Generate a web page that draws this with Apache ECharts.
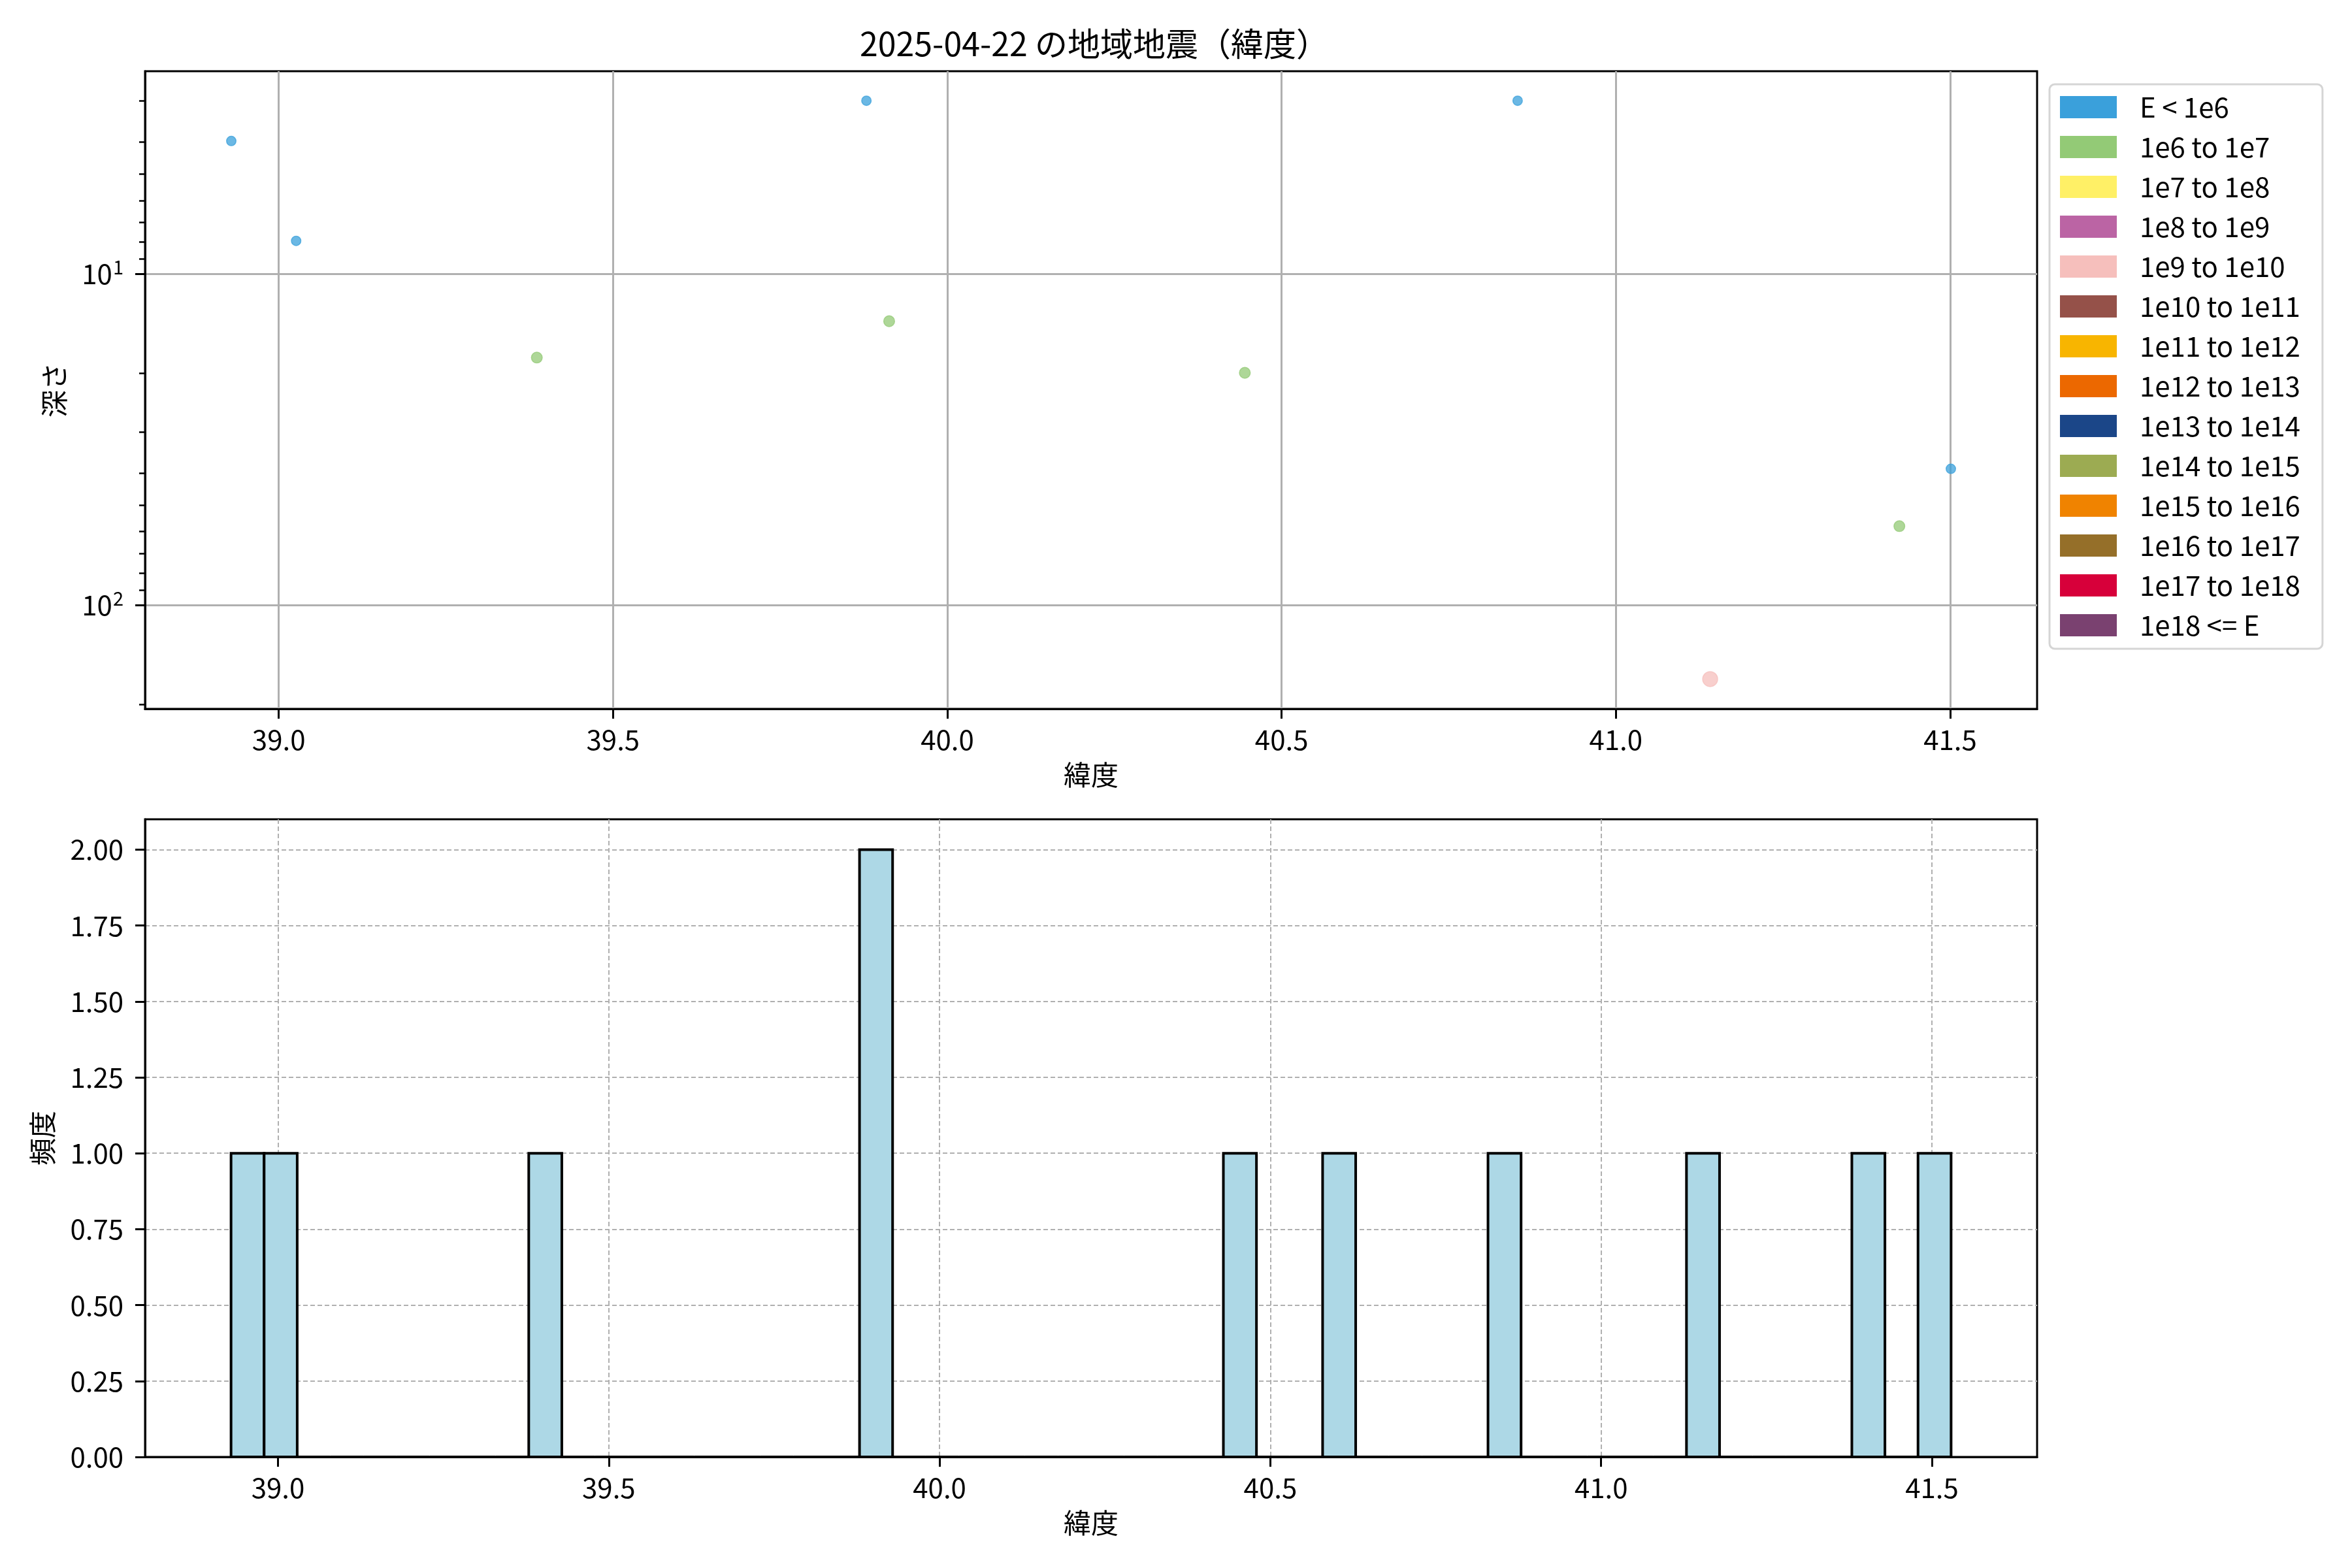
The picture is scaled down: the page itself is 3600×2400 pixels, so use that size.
<!DOCTYPE html>
<html><head><meta charset="utf-8">
<script src="https://cdn.jsdelivr.net/npm/echarts@6/dist/echarts.min.js"></script>
<style>html,body{margin:0;padding:0;background:#fff}#c{width:3600px;height:2400px}</style>
</head><body><div id="c"></div>
<script>
// ---------- data ----------
const titleText = '2025-04-22 の地域地震（緯度）';
const energyClasses = ['E < 1e6','1e6 to 1e7','1e7 to 1e8','1e8 to 1e9','1e9 to 1e10','1e10 to 1e11','1e11 to 1e12','1e12 to 1e13','1e13 to 1e14','1e14 to 1e15','1e15 to 1e16','1e16 to 1e17','1e17 to 1e18','1e18 <= E'];
const classColors = ['#3AA0DB','#93CA76','#FFF066','#BB64A4','#F6BFBC','#955149','#F8B500','#EC6800','#1B4688','#9CAB52','#F08300','#956F29','#D7003A','#7A4170'];
const quakeLat   = [38.929, 39.026, 39.386, 39.879, 39.913, 40.445, 40.853, 41.141, 41.424, 41.501];
const quakeDepth = [3.97,   7.95,   17.9,   3.0,    13.9,   19.9,   3.0,    167.5,  57.8,   38.8];
const quakeClass = [0,      0,      1,      0,      1,      1,      0,      4,      1,      0];
const latTicks = [39.0, 39.5, 40.0, 40.5, 41.0, 41.5];
const depthMajorTicks = [10, 100];
const depthMinorTicks = [3,4,5,6,7,8,9,20,30,40,50,60,70,80,90,200];
const histBinStart = 38.929;
const histBinWidth = 0.05;
const histCounts = [1,1,0,0,0,0,0,0,0,1,
                    0,0,0,0,0,0,0,0,0,2,
                    0,0,0,0,0,0,0,0,0,0,
                    1,0,0,1,0,0,0,0,1,0,
                    0,0,0,0,1,0,0,0,0,1,
                    0,1];
const freqTicks = [0, 0.25, 0.5, 0.75, 1.0, 1.25, 1.5, 1.75, 2.0];

// ---------- chart ----------
const FONT = "'Noto Sans CJK JP', 'Noto Sans', sans-serif";
const chart = echarts.init(document.getElementById('c'), null, {renderer: 'canvas'});

const axisLine = {show: true, lineStyle: {color: '#000', width: 3}};
const tickStyle = {color: '#000', width: 3};
const labelBase = {color: '#000', fontSize: 42, fontFamily: FONT};
const nameStyle = {color: '#000', fontSize: 42, fontFamily: FONT};

const scatterSeries = energyClasses.map((name, ci) => ({
  type: 'scatter',
  name: name,
  xAxisIndex: 0,
  yAxisIndex: 0,
  data: quakeLat.map((x, i) => [x, quakeDepth[i], quakeClass[i]]).filter(d => d[2] === ci),
  symbol: 'circle',
  symbolSize: 14.5 + ci * 2.1,
  itemStyle: {color: classColors[ci], opacity: 0.75, borderColor: classColors[ci], borderWidth: 1.5},
  emphasis: {disabled: true},
  z: 3
}));

const histData = histCounts.map((c, i) => [histBinStart + i * histBinWidth, histBinStart + (i + 1) * histBinWidth, c]);

const option = {
  backgroundColor: '#fff',
  animation: false,
  title: {
    text: titleText, left: 1670, top: 37, textAlign: 'center',
    textStyle: {fontSize: 50, fontWeight: 'normal', fontFamily: FONT, color: '#000'}
  },
  legend: {
    orient: 'vertical', left: 3137, top: 129,
    data: energyClasses,
    icon: 'rect', itemWidth: 87, itemHeight: 34, itemGap: 19,
    padding: [14, 34, 15, 16],
    backgroundColor: '#fff', borderColor: '#d5d5d5', borderWidth: 3, borderRadius: 8,
    textStyle: {fontFamily: FONT, fontSize: 42, color: '#000', lineHeight: 34, padding: [0, 0, 0, 30]},
    itemStyle: {opacity: 1, borderWidth: 0},
    selectedMode: false
  },
  grid: [
    {left: 222, top: 109, width: 2896, height: 976, show: true, borderColor: '#000', borderWidth: 3, backgroundColor: 'transparent'},
    {left: 222, top: 1254, width: 2896, height: 976, show: true, borderColor: '#000', borderWidth: 3, backgroundColor: 'transparent'}
  ],
  xAxis: [
    {
      type: 'value', gridIndex: 0, min: 38.800, max: 41.630,
      name: '緯度', nameLocation: 'middle', nameGap: 80, nameTextStyle: nameStyle,
      axisLine: axisLine,
      axisTick: {show: true, length: 15, lineStyle: tickStyle, customValues: latTicks},
      axisLabel: Object.assign({}, labelBase, {margin: 26, customValues: latTicks, formatter: v => v.toFixed(1)}),
      splitLine: {show: true, lineStyle: {color: '#b0b0b0', width: 3}}
    },
    {
      type: 'value', gridIndex: 1, min: 38.799, max: 41.659,
      name: '緯度', nameLocation: 'middle', nameGap: 80, nameTextStyle: nameStyle,
      axisLine: axisLine,
      axisTick: {show: true, length: 15, lineStyle: tickStyle, customValues: latTicks},
      axisLabel: Object.assign({}, labelBase, {margin: 26, customValues: latTicks, formatter: v => v.toFixed(1)}),
      splitLine: {show: true, lineStyle: {color: '#b0b0b0', width: 2, type: [7, 4]}}
    }
  ],
  yAxis: [
    {
      type: 'log', logBase: 10, gridIndex: 0, inverse: true, min: 2.443, max: 206,
      position: 'left',
      name: '深さ', nameLocation: 'middle', nameGap: 118, nameRotate: 90, nameTextStyle: nameStyle,
      axisLine: axisLine,
      axisTick: {show: true, length: 15, lineStyle: tickStyle, customValues: depthMajorTicks},
      axisLabel: Object.assign({}, labelBase, {
        margin: 33, customValues: depthMajorTicks,
        formatter: v => '{b|10}{s|' + Math.round(Math.log10(v)) + '}',
        rich: {
          b: {fontSize: 42, fontFamily: FONT, color: '#000'},
          s: {fontSize: 29, fontFamily: FONT, color: '#000', padding: [0, 0, 20, 1]}
        }
      }),
      splitLine: {show: true, lineStyle: {color: '#b0b0b0', width: 3}}
    },
    {
      type: 'log', logBase: 10, gridIndex: 0, inverse: true, min: 2.443, max: 206,
      position: 'left', offset: 0,
      axisLine: {show: false},
      axisTick: {show: true, length: 9, lineStyle: {color: '#000', width: 2.5}, customValues: depthMinorTicks},
      axisLabel: {show: false},
      splitLine: {show: false}
    },
    {
      type: 'value', gridIndex: 1, min: 0, max: 2.1,
      name: '頻度', nameLocation: 'middle', nameGap: 136, nameRotate: 90, nameTextStyle: nameStyle,
      axisLine: axisLine,
      axisTick: {show: true, length: 15, lineStyle: tickStyle, customValues: freqTicks},
      axisLabel: Object.assign({}, labelBase, {margin: 33, customValues: freqTicks, formatter: v => v.toFixed(2)}),
      splitLine: {show: true, lineStyle: {color: '#b0b0b0', width: 2, type: [7, 4]}}
    }
  ],
  series: scatterSeries.concat([{
    type: 'custom',
    name: 'hist',
    xAxisIndex: 1,
    yAxisIndex: 2,
    data: histData,
    encode: {x: [0, 1], y: 2},
    renderItem: function (params, api) {
      const p0 = api.coord([api.value(0), api.value(2)]);
      const p1 = api.coord([api.value(1), 0]);
      return {
        type: 'rect',
        shape: {x: p0[0], y: p0[1], width: p1[0] - p0[0], height: p1[1] - p0[1]},
        style: {fill: '#ADD8E6', stroke: '#000', lineWidth: 4}
      };
    },
    z: 2
  }])
};
chart.setOption(option);
</script>
</body></html>
